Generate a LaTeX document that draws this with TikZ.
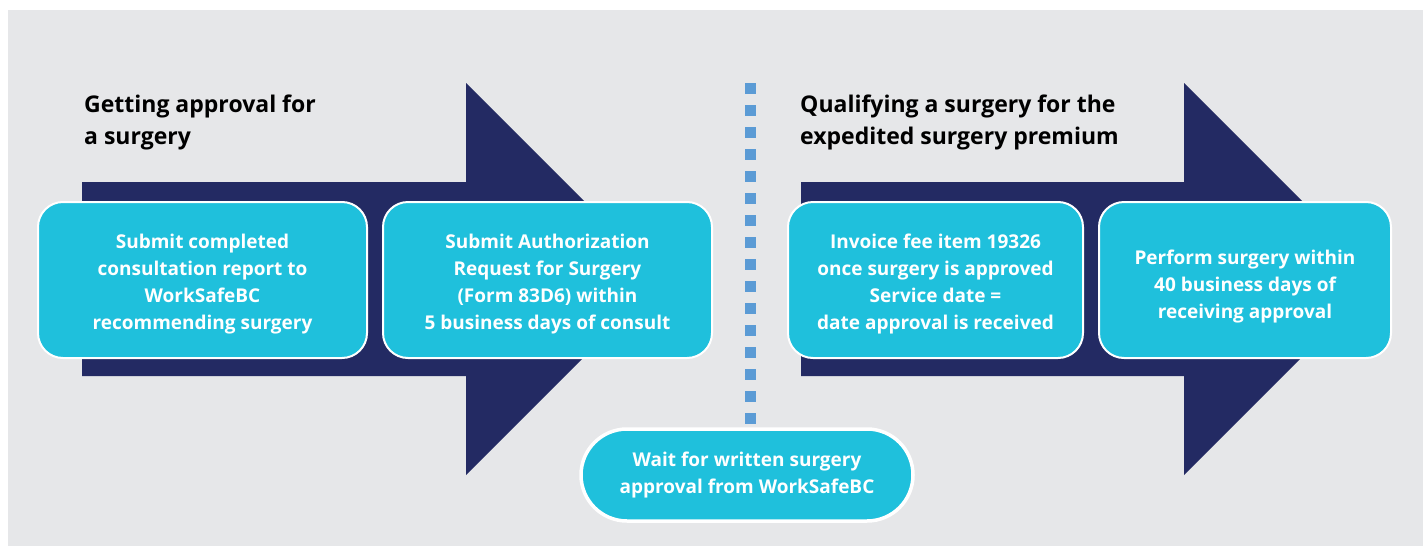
\documentclass[tikz,border=0pt]{standalone}
\usepackage{fontspec}
\setmainfont{Open Sans}
\definecolor{bggray}{HTML}{E6E7E9}
\definecolor{navy}{HTML}{232A63}
\definecolor{cyanbox}{HTML}{1FC0DC}
\definecolor{dotblue}{HTML}{5B9BD5}
\begin{document}
\begin{tikzpicture}[x=1pt,y=-1pt,
  stepbox/.style={draw=white,line width=2pt,fill=cyanbox,rounded corners=25pt,
    inner sep=0pt,minimum height=156pt},
  steptext/.style={text=white,align=center,inner sep=0pt,
    font=\bfseries\fontsize{19}{27}\selectfont},
  pillbox/.style={draw=white,line width=3.5pt,fill=cyanbox,rounded corners=46pt,
    text=white,align=center,inner sep=0pt,
    font=\bfseries\fontsize{19}{27}\selectfont},
  titletext/.style={text=black,align=left,inner sep=0pt,anchor=north west,
    font=\bfseries\fontsize{23}{32}\selectfont},
  bigarrow/.style={fill=navy}]
\useasboundingbox (0,0) rectangle (1426,546);
\fill[white] (0,0) rectangle (1426,546);
\fill[bggray] (8,10) rectangle (1423,546);
% arrows
\fill[bigarrow] (82,182) -- (466,182) -- (466,83) -- (662,279) -- (466,475) -- (466,376) -- (82,376) -- cycle;
\fill[bigarrow] (801,182) -- (1184,182) -- (1184,83) -- (1380,279) -- (1184,475) -- (1184,376) -- (801,376) -- cycle;
% titles
\node[titletext] (t1) at (84,95) {Getting approval for\\a surgery};
\node[titletext] (t2) at (800,95) {Qualifying a surgery for the\\expedited surgery premium};
% dotted divider
\coordinate (dtop) at (750.5,83);
\coordinate (dbot) at (750.5,425);
\draw[dotblue,line width=11pt,dash pattern=on 11pt off 11pt] (dtop) -- (dbot);
% boxes
\node[stepbox,minimum width=329pt] (b1) at (202.5,280) {};
\node[steptext] (b1t) at ([yshift=-4.5pt]b1.center) {Submit completed\\consultation report to\\WorkSafeBC\\recommending surgery};
\node[stepbox,minimum width=329pt] (b2) at (547.5,280) {};
\node[steptext] (b2t) at ([yshift=-4.5pt]b2.center) {Submit Authorization\\Request for Surgery\\(Form 83D6) within\\5 business days of consult};
\node[stepbox,minimum width=295pt] (b3) at (935.5,280) {};
\node[steptext] (b3t) at ([yshift=-4.5pt]b3.center) {Invoice fee item 19326\\once surgery is approved\\Service date =\\date approval is received};
\node[stepbox,minimum width=292pt] (b4) at (1245,280) {};
\node[steptext] (b4t) at ([yshift=-6.5pt]b4.center) {Perform surgery within\\40 business days of\\receiving approval};
\node[pillbox,minimum width=332pt,minimum height=92pt] (p) at (747,475) {Wait for written surgery\\approval from WorkSafeBC};
\end{tikzpicture}
\end{document}
